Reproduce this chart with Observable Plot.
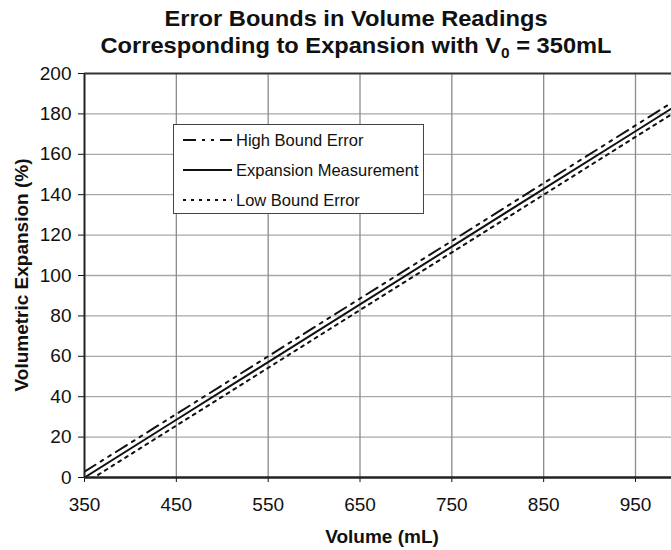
<!DOCTYPE html>
<html>
<head>
<meta charset="utf-8">
<script src="https://cdn.jsdelivr.net/npm/d3@7"></script>
<script src="https://cdn.jsdelivr.net/npm/@observablehq/plot@0.6"></script>
<style>
  html, body { margin: 0; padding: 0; background: #fff; }
  #wrap { position: relative; width: 671px; height: 550px; overflow: hidden; }
  #overlay { position: absolute; left: 0; top: 0; pointer-events: none; }
</style>
</head>
<body>
<div id="wrap">
  <div id="chart"></div>
  <svg id="overlay" width="671" height="550" font-family="'Liberation Sans', Arial, sans-serif"></svg>
</div>
<script>
// ---- data ----
const volumes    = [350, 450, 550, 650, 750, 850, 950, 1000];
const expansion  = [0, 28.6, 57.1, 85.7, 114.3, 142.9, 171.4, 185.7];
const highBound  = [2.9, 31.4, 60.0, 88.6, 117.1, 145.7, 174.3, 188.6];
const lowBound   = [-2.9, 25.7, 54.3, 82.9, 111.4, 140.0, 168.6, 182.9];
const xTicks     = [350, 450, 550, 650, 750, 850, 950];
const yTicks     = [0, 20, 40, 60, 80, 100, 120, 140, 160, 180, 200];
const seriesNames = ["High Bound Error", "Expansion Measurement", "Low Bound Error"];
const titleLines = ["Error Bounds in Volume Readings", "Corresponding to Expansion with V", "0", " = 350mL"];
const xLabel = "Volume (mL)";
const yLabel = "Volumetric Expansion (%)";

const dash = {
  "High Bound Error": "13,6,3,6,3,6",
  "Expansion Measurement": null,
  "Low Bound Error": "3,5"
};

const rows = [];
volumes.forEach((v, i) => {
  rows.push({series: seriesNames[0], v, e: highBound[i]});
  rows.push({series: seriesNames[1], v, e: expansion[i]});
  rows.push({series: seriesNames[2], v, e: lowBound[i]});
});

const lineMarks = seriesNames.map(name =>
  Plot.line(rows.filter(d => d.series === name), {
    x: "v", y: "e", stroke: "#111", strokeWidth: 2,
    strokeDasharray: dash[name] ?? undefined, clip: true
  })
);

const chart = Plot.plot({
  width: 671,
  height: 550,
  marginLeft: 84,
  marginRight: 0,
  marginTop: 73,
  marginBottom: 73,
  style: { fontFamily: "'Liberation Sans', Arial, sans-serif", fontSize: "19px", color: "#111", background: "#fff" },
  x: { domain: [350, 989.2], ticks: xTicks, tickSize: 5, tickPadding: 15, label: null, tickFormat: d => String(d) },
  y: { domain: [0, 200], ticks: yTicks, tickSize: 6, tickPadding: 7, label: null, tickFormat: d => String(d) },
  marks: [
    Plot.ruleY(yTicks.slice(1, -1), { stroke: "#a8a8a8", strokeWidth: 1.3 }),
    Plot.ruleX(xTicks.slice(1), { stroke: "#8c8c8c", strokeWidth: 1.3 }),
    ...lineMarks,
    Plot.ruleX([350], { stroke: "#222", strokeWidth: 2 }),
    Plot.ruleY([0], { stroke: "#222", strokeWidth: 2.5 }),
    Plot.ruleY([200], { stroke: "#333", strokeWidth: 2 })
  ]
});
document.getElementById("chart").appendChild(chart);

// ---- overlay: title, axis labels, legend ----
const ov = d3.select("#overlay");
const tcx = 356;
const tg = ov.append("g").attr("transform", `translate(${tcx},0) scale(1.1,1)`);
tg.append("text").attr("x", 0).attr("y", 26).attr("text-anchor", "middle")
  .attr("font-size", 21.5).attr("font-weight", "bold").attr("fill", "#111").text(titleLines[0]);
const t2 = tg.append("text").attr("x", 0).attr("y", 53).attr("text-anchor", "middle")
  .attr("font-size", 21.5).attr("font-weight", "bold").attr("fill", "#111");
t2.append("tspan").text(titleLines[1]);
t2.append("tspan").attr("font-size", 14).attr("dy", 5).text(titleLines[2]);
t2.append("tspan").attr("dy", -5).text(titleLines[3]);

ov.append("text").attr("x", 382).attr("y", 543).attr("text-anchor", "middle")
  .attr("font-size", 19).attr("font-weight", "bold").attr("fill", "#111").text(xLabel);
ov.append("text").attr("transform", "translate(28,275) rotate(-90)").attr("text-anchor", "middle")
  .attr("font-size", 19).attr("font-weight", "bold").attr("fill", "#111").text(yLabel);

const lg = ov.append("g").attr("transform", "translate(173,124)");
lg.append("rect").attr("x", 0.5).attr("y", 0.5).attr("width", 250).attr("height", 89)
  .attr("fill", "#fff").attr("stroke", "#444").attr("stroke-width", 1);
seriesNames.forEach((name, i) => {
  const y = 16 + i * 30;
  const l = lg.append("line").attr("x1", 10).attr("x2", 59).attr("y1", y).attr("y2", y)
    .attr("stroke", "#111").attr("stroke-width", 2);
  if (dash[name]) l.attr("stroke-dasharray", dash[name]);
  lg.append("text").attr("x", 63).attr("y", y).attr("dy", "0.35em")
    .attr("font-size", 16.5).attr("fill", "#111").text(name);
});
</script>
</body>
</html>
